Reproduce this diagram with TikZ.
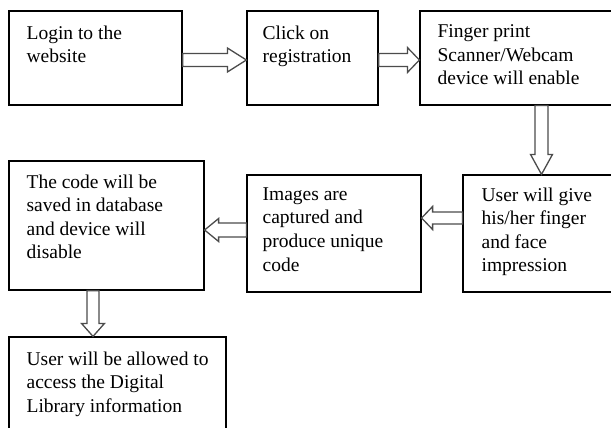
\documentclass[tikz,border=0pt]{standalone}
\usepackage{fontspec}
\setmainfont{Liberation Serif}
\usetikzlibrary{calc,fit}
\tikzset{
  box/.style={draw=black, line width=1.2pt, inner sep=0pt, fill=white},
  txt/.style={align=left, inner sep=0pt, anchor=north west,
    font=\fontsize{19.5}{23.6}\selectfont},
  blk/.style={draw=black!70, line width=1.3pt, fill=white, line join=miter}
}
% horizontal hollow block arrow: from, to, signed head length, shaft half, head half
\newcommand\harrow[5]{%
  \draw[blk] let \p1=(#1), \p2=(#2) in
    ({\x1},{\y1-#4pt}) -- ({\x2-(#3pt)},{\y1-#4pt}) -- ({\x2-(#3pt)},{\y1-#5pt}) -- ({\x2},{\y1})
    -- ({\x2-(#3pt)},{\y1+#5pt}) -- ({\x2-(#3pt)},{\y1+#4pt}) -- ({\x1},{\y1+#4pt}) -- cycle;}
% vertical (downward) hollow block arrow
\newcommand\varrow[5]{%
  \draw[blk] let \p1=(#1), \p2=(#2) in
    ({\x1-#4pt},{\y1}) -- ({\x1-#4pt},{\y2+#3pt}) -- ({\x1-#5pt},{\y2+#3pt}) -- ({\x1},{\y2})
    -- ({\x1+#5pt},{\y2+#3pt}) -- ({\x1+#4pt},{\y2+#3pt}) -- ({\x1+#4pt},{\y1}) -- cycle;}
\begin{document}
\begin{tikzpicture}[x=1pt,y=-1pt]
\useasboundingbox (0,0) rectangle (611,428);
\clip (0,0) rectangle (611,428);
\fill[white] (0,0) rectangle (611,428);

\node[box, fit={(9,11) (182,105)}] (b1) {};
\node[box, fit={(247,11) (378,105)}] (b2) {};
\node[box, fit={(420,11) (625,105)}] (b3) {};
\node[box, fit={(463,175) (625,292)}] (b4) {};
\node[box, fit={(247,175) (421,292)}] (b5) {};
\node[box, fit={(9,161) (204,290)}] (b6) {};
\node[box, fit={(9,337) (226,445)}] (b7) {};

\node[txt] (t1) at ([shift={(18pt,-15pt)}]b1.north west) {Login to the\\website};
\node[txt] (t2) at ([shift={(16pt,-15pt)}]b2.north west) {Click on\\registration};
\node[txt] (t3) at ([shift={(18pt,-14pt)}]b3.north west) {Finger print\\Scanner/Webcam\\device will enable};
\node[txt] (t4) at ([shift={(19pt,-13pt)}]b4.north west) {User will give\\his/her finger\\and face\\impression};
\node[txt] (t5) at ([shift={(16pt,-13pt)}]b5.north west) {Images are\\captured and\\produce unique\\code};
\node[txt] (t6) at ([shift={(18pt,-14pt)}]b6.north west) {The code will be\\saved in database\\and device will\\disable};
\node[txt] (t7) at ([shift={(18pt,-15pt)}]b7.north west) {User will be allowed to\\access the Digital\\Library information};

\harrow{[yshift=-2pt]b1.east}{b2.west}{19}{6.5}{12}
\harrow{[yshift=-2pt]b2.east}{b3.west}{12}{6.5}{12.5}
\varrow{[xshift=19pt]b3.south}{b4.north}{20}{6.5}{11}
\harrow{[yshift=15.5pt]b4.west}{b5.east}{-11}{6}{11.5}
\harrow{[yshift=3.5pt]b5.west}{b6.east}{-14}{7}{11.5}
\varrow{[xshift=-13.5pt]b6.south}{b7.north}{13}{6}{11.5}
\end{tikzpicture}
\end{document}
